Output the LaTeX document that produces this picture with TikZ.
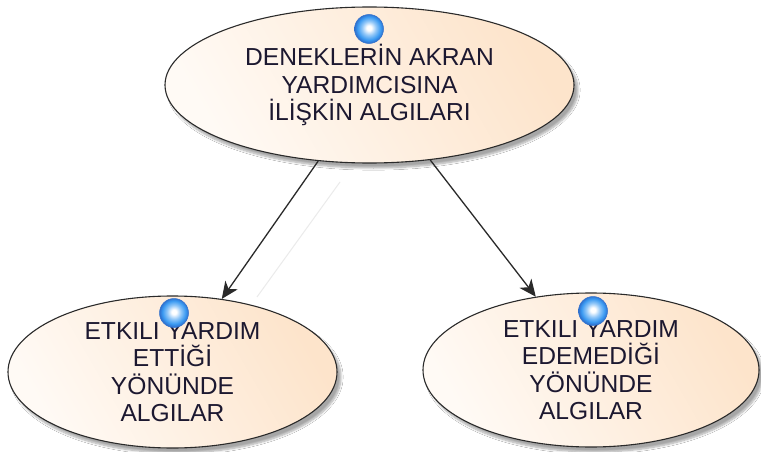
\documentclass[tikz,border=0pt]{standalone}
\usepackage{fontspec}
\setmainfont{Liberation Sans}
\usetikzlibrary{arrows.meta,shapes.geometric,shadows.blur}
\definecolor{edgegray}{HTML}{2A2A2A}
\definecolor{peachlight}{HTML}{FFFAF5}
\definecolor{peachdark}{HTML}{FDE4CB}
\definecolor{inktext}{HTML}{1C1830}
\definecolor{ballblue}{HTML}{3A9AF2}
\definecolor{ballrim}{HTML}{2F6FCC}
% glossy marker: bright core slightly above centre, blue rim
\pgfdeclareradialshading{glossball}{\pgfpoint{0bp}{2bp}}{%
  color(0bp)=(white); color(4bp)=(white);
  color(12bp)=(white!45!ballblue); color(20bp)=(ballblue);
  color(25bp)=(ballrim); color(50bp)=(ballrim)}
\tikzset{
  topic/.style={ellipse, draw=edgegray, line width=1.1pt, inner sep=0pt,
    left color=peachlight, right color=peachdark, shading angle=120,
    blur shadow={shadow xshift=4pt, shadow yshift=-5pt, shadow blur steps=8,
      shadow opacity=35},
    text=inktext, align=center,
    font=\fontsize{24.6}{27.5}\selectfont},
  marker/.style={circle, minimum size=29pt, inner sep=0pt, draw=ballrim,
    line width=0.5pt, shading=glossball},
  link/.style={draw=edgegray, line width=1.3pt,
    -{Stealth[length=17pt,width=15pt,inset=5pt]}},
}
\begin{document}
\begin{tikzpicture}[x=1pt,y=-1pt]
  \useasboundingbox[fill=white] (0,0) rectangle (761,452);

  % main topic and its two outcomes
  \node[topic, minimum width=409pt, minimum height=156pt] (root) at (369.5,85)
    {DENEKLERİN AKRAN\\YARDIMCISINA\\İLİŞKİN ALGILARI};
  \node[topic, minimum width=329pt, minimum height=152pt] (pos) at (172.5,372)
    {ETKILI YARDIM\\ETTİĞİ\\YÖNÜNDE\\ALGILAR};
  \node[topic, minimum width=336pt, minimum height=154pt] (neg) at (591,370)
    {ETKILI YARDIM\\EDEMEDİĞİ\\YÖNÜNDE\\ALGILAR};

  % faint guide stroke between the branches
  \coordinate (g1) at (340,182);
  \coordinate (g2) at (257,297);
  \draw[black!8, line width=1pt] (g1) -- (g2);

  % branch connectors
  \draw[link] (root.236) -- (pos.56);
  \draw[link] (root.309) -- (neg.127);

  % status markers on each topic
  \node[marker] (mroot) at (369,29) {};
  \node[marker] (mpos) at (174,313) {};
  \node[marker] (mneg) at (593,311) {};
\end{tikzpicture}
\end{document}
